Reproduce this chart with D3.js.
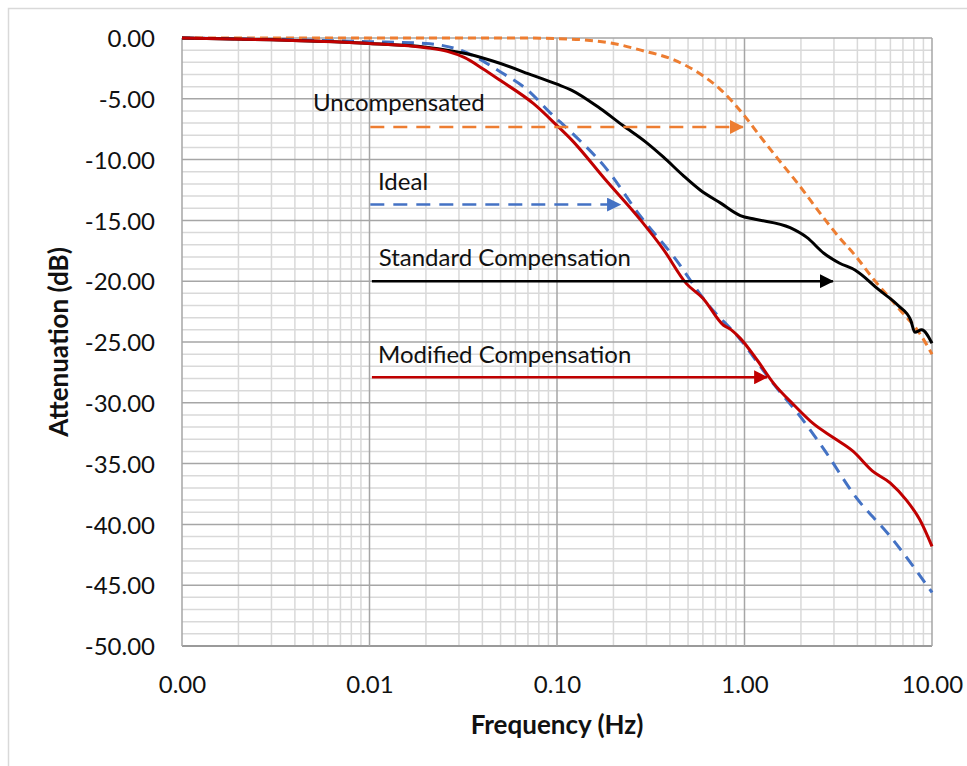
<!DOCTYPE html>
<html>
<head>
<meta charset="utf-8">
<script src="https://cdn.jsdelivr.net/npm/d3@7/dist/d3.min.js"></script>
<style>
  html, body { margin: 0; padding: 0; background: #fff; }
  svg { display: block; }
  text { font-family: Lato, "Open Sans", sans-serif; fill: #111; }
</style>
</head>
<body>
<svg id="chart" width="967" height="766"></svg>
<script>
// ---------- data ----------
const xTickValues = [0.001, 0.01, 0.1, 1, 10];
const xTickLabels = ["0.00", "0.01", "0.10", "1.00", "10.00"];
const yTickValues = [0, -5, -10, -15, -20, -25, -30, -35, -40, -45, -50];
const yTickLabels = ["0.00", "-5.00", "-10.00", "-15.00", "-20.00", "-25.00", "-30.00", "-35.00", "-40.00", "-45.00", "-50.00"];

const uncompensated = [
  [0.001, 0], [0.01, 0], [0.03, 0], [0.06, 0], [0.1, -0.05], [0.15, -0.2], [0.2, -0.45],
  [0.28, -1.0], [0.42, -1.8], [0.56, -2.8], [0.74, -4.2], [1.0, -6.4], [1.2, -8.0],
  [1.5, -9.9], [2.0, -12.3], [2.5, -14.3], [3.2, -16.4], [3.9, -17.9], [4.8, -19.7],
  [6.7, -22.3], [8.6, -24.3], [10, -26.0]
];
const ideal = [
  [0.001, 0], [0.01, -0.3], [0.02, -0.45], [0.033, -1.2], [0.05, -2.8], [0.07, -4.3],
  [0.09, -6.0], [0.12, -7.8], [0.18, -10.6], [0.28, -14.7], [0.42, -18.0], [0.63, -21.8],
  [0.95, -24.8], [1.37, -28.1], [2.0, -31.2], [2.7, -34.0], [3.9, -37.7], [6.0, -41.0],
  [10, -45.6]
];
const standardComp = [
  [0.001, 0], [0.003, -0.15], [0.01, -0.45], [0.02, -0.75], [0.033, -1.3], [0.05, -2.1],
  [0.075, -3.1], [0.1, -3.8], [0.12, -4.3], [0.17, -5.8], [0.225, -7.2], [0.3, -8.6],
  [0.37, -9.8], [0.47, -11.3], [0.58, -12.5], [0.75, -13.6], [0.95, -14.6], [1.14, -14.9],
  [1.75, -15.6], [2.15, -16.4], [2.65, -17.7], [3.2, -18.5], [3.9, -19.1], [5.2, -20.7],
  [6.6, -22.0], [7.7, -23.2], [8.1, -24.2], [8.8, -24.0], [10, -25.1]
];
const modifiedComp = [
  [0.001, 0], [0.003, -0.15], [0.01, -0.45], [0.02, -0.8], [0.026, -1.1], [0.032, -1.6],
  [0.04, -2.5], [0.05, -3.5], [0.075, -5.4], [0.1, -7.2], [0.12, -8.4], [0.18, -11.6],
  [0.28, -15.0], [0.37, -17.4], [0.49, -20.2], [0.6, -21.4], [0.77, -23.6], [0.85, -24.0],
  [0.95, -24.7], [1.17, -26.5], [1.43, -28.4], [1.84, -30.2], [2.32, -31.7], [3.0, -32.9],
  [3.8, -34.0], [4.8, -35.6], [6.0, -36.6], [7.3, -38.0], [8.6, -39.6], [10, -41.8]
];

// annotation labels: text, label anchor (freq, dB), arrow start freq, arrow end freq, arrow dB
const annoNames = ["Uncompensated", "Ideal", "Standard Compensation", "Modified Compensation"];
const annoLabelFreq = [0.005, 0.0111, 0.0112, 0.0111];
const annoLabelDb = [-6.0, -12.5, -18.75, -26.75];
const annoArrowFrom = [0.0101, 0.0101, 0.0103, 0.0103];
const annoArrowTo = [0.98, 0.217, 2.96, 1.32];
const annoArrowDb = [-7.32, -13.7, -20.0, -27.9];

(function () {
// ---------- layout ----------
const svg = d3.select("#chart");
const pLeft = 182, pRight = 932, pTop = 38, pBottom = 646;

const x = d3.scaleLog().domain([0.001, 10]).range([pLeft, pRight]);
const y = d3.scaleLinear().domain([-50, 0]).range([pBottom, pTop]);

// outer chart border (cropped)
svg.append("path")
  .attr("d", `M8.5,780 L8.5,8.5 L980,8.5`)
  .attr("fill", "none").attr("stroke", "#d9d9d9").attr("stroke-width", 1.5);

// ---------- grid ----------
const g = svg.append("g");
const minorX = [];
[0.001, 0.01, 0.1, 1].forEach(d => { for (let k = 2; k <= 9; k++) minorX.push(d * k); });
const minorY = d3.range(-50, 1, 1).filter(v => v % 5 !== 0);

g.selectAll(".hminor").data(minorY).enter().append("line")
  .attr("x1", pLeft).attr("x2", pRight)
  .attr("y1", d => y(d)).attr("y2", d => y(d))
  .attr("stroke", "#d9d9d9").attr("stroke-width", 1.5);
g.selectAll(".vminor").data(minorX).enter().append("line")
  .attr("x1", d => x(d)).attr("x2", d => x(d))
  .attr("y1", pTop).attr("y2", pBottom)
  .attr("stroke", "#d9d9d9").attr("stroke-width", 1.5);
g.selectAll(".hmajor").data(yTickValues).enter().append("line")
  .attr("x1", pLeft).attr("x2", pRight)
  .attr("y1", d => y(d)).attr("y2", d => y(d))
  .attr("stroke", d => d === -50 ? "#9a9a9a" : "#a6a6a6").attr("stroke-width", d => d === -50 ? 2 : 1.5);
g.selectAll(".vmajor").data(xTickValues).enter().append("line")
  .attr("x1", d => x(d)).attr("x2", d => x(d))
  .attr("y1", pTop).attr("y2", pBottom)
  .attr("stroke", "#a6a6a6").attr("stroke-width", 1.5);

// ---------- axes labels ----------
const yAxis = d3.axisLeft(y).tickValues(yTickValues)
  .tickFormat((d, i) => yTickLabels[i]).tickSize(0).tickPadding(0);
const yg = svg.append("g").attr("transform", `translate(155,0)`).call(yAxis);
yg.select(".domain").remove();
yg.selectAll("text").attr("font-size", 24).attr("font-family", "Lato").attr("fill", "#111").attr("dy", "0.36em");

const xAxis = d3.axisBottom(x).tickValues(xTickValues)
  .tickFormat((d, i) => xTickLabels[i]).tickSize(0).tickPadding(0);
const xg = svg.append("g").attr("transform", `translate(0,670)`).call(xAxis);
xg.select(".domain").remove();
xg.selectAll("text").attr("font-size", 24).attr("font-family", "Lato").attr("fill", "#111").attr("dy", "0.95em");

svg.append("text")
  .attr("transform", `translate(68,${(pTop + pBottom) / 2}) rotate(-90)`)
  .attr("text-anchor", "middle")
  .attr("font-size", 26).attr("font-weight", "bold")
  .text("Attenuation (dB)");

svg.append("text")
  .attr("x", (pLeft + pRight) / 2).attr("y", 734)
  .attr("text-anchor", "middle")
  .attr("font-size", 26).attr("font-weight", "bold")
  .text("Frequency (Hz)");

// ---------- series ----------
const line = d3.line().x(d => x(d[0])).y(d => y(d[1])).curve(d3.curveMonotoneX);

const series = [
  { data: uncompensated, color: "#ED7D31", dash: "8,5", width: 3 },
  { data: ideal, color: "#4472C4", dash: "12,8", width: 3 },
  { data: standardComp, color: "#000000", dash: null, width: 3 },
  { data: modifiedComp, color: "#C00000", dash: null, width: 3 }
];
series.forEach(s => {
  svg.append("path").datum(s.data)
    .attr("d", line)
    .attr("fill", "none")
    .attr("stroke", s.color)
    .attr("stroke-width", s.width)
    .attr("stroke-dasharray", s.dash)
    .attr("stroke-linejoin", "round");
});

// ---------- annotations ----------
const annoColors = ["#ED7D31", "#4472C4", "#000000", "#C00000"];
const annoDash = ["14,9", "14,9", null, null];
const defs = svg.append("defs");
annoColors.forEach((c, i) => {
  defs.append("marker")
    .attr("id", "arrow" + i)
    .attr("markerUnits", "userSpaceOnUse")
    .attr("viewBox", "0 0 14 14")
    .attr("refX", 13).attr("refY", 7)
    .attr("markerWidth", 14).attr("markerHeight", 14)
    .attr("orient", "auto")
    .append("path").attr("d", "M0,0 L14,7 L0,14 Z").attr("fill", c);
});

annoNames.forEach((name, i) => {
  svg.append("line")
    .attr("x1", x(annoArrowFrom[i])).attr("x2", x(annoArrowTo[i]))
    .attr("y1", y(annoArrowDb[i])).attr("y2", y(annoArrowDb[i]))
    .attr("stroke", annoColors[i]).attr("stroke-width", 2.5)
    .attr("stroke-dasharray", annoDash[i])
    .attr("marker-end", `url(#arrow${i})`);
  svg.append("text")
    .attr("x", x(annoLabelFreq[i])).attr("y", y(annoLabelDb[i]))
    .attr("font-size", 24)
    .text(name);
});
})();
</script>
</body>
</html>
